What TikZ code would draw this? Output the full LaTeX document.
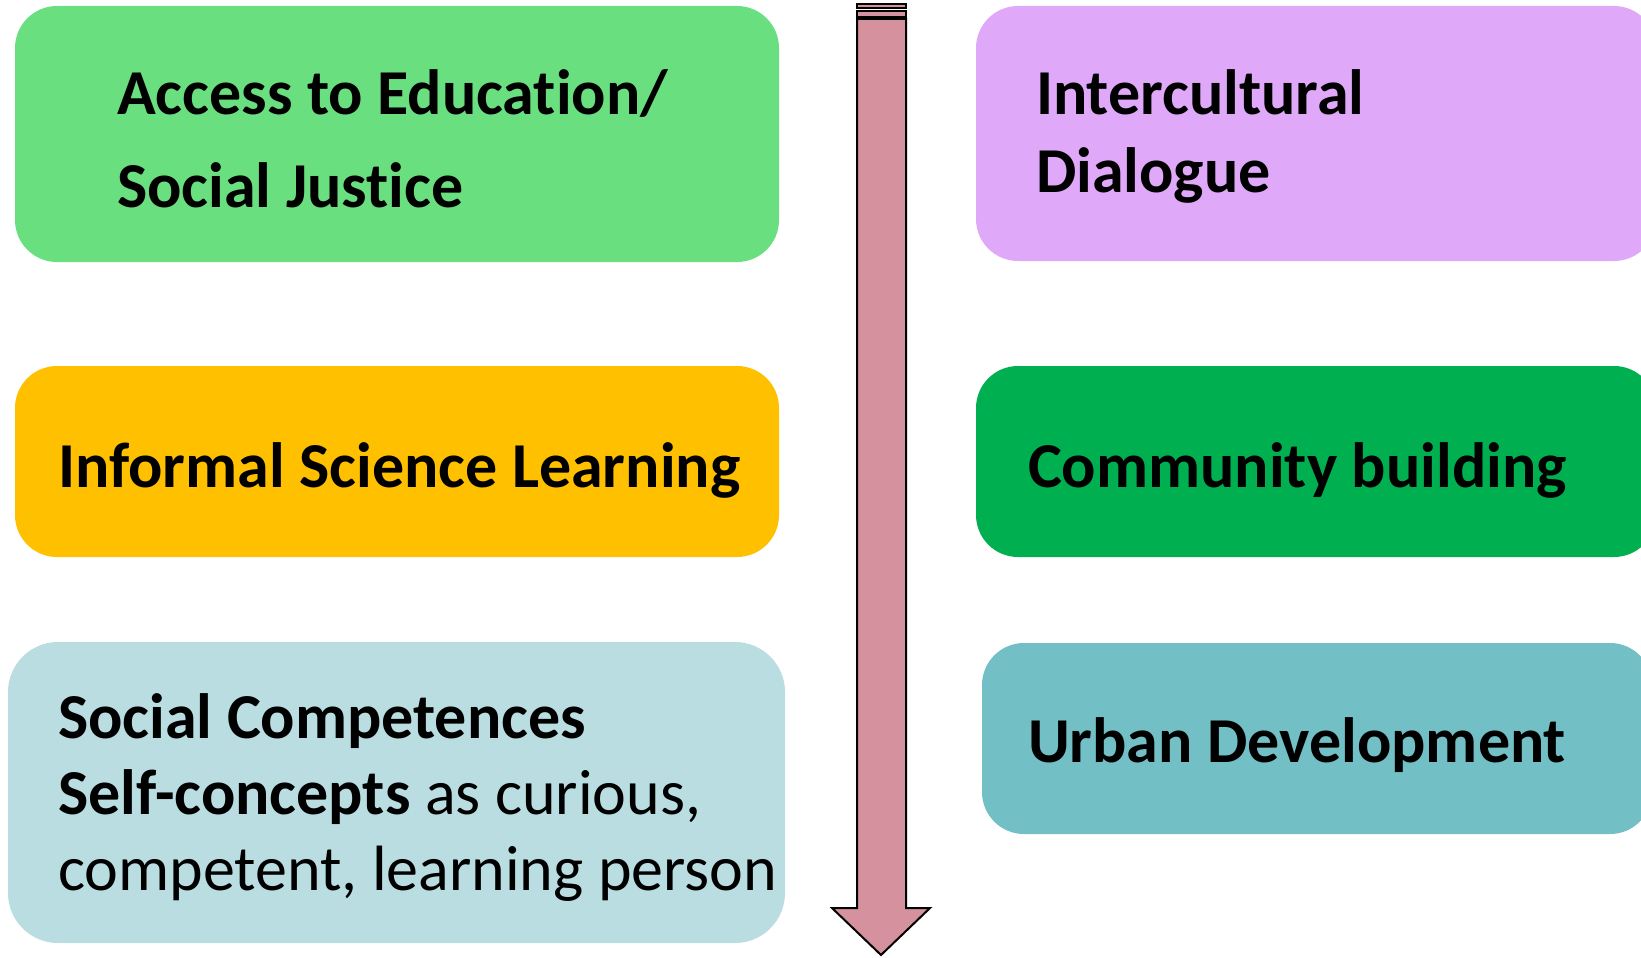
\documentclass[tikz,border=0pt]{standalone}
\usepackage{fontspec}
\setmainfont{Carlito}[Ligatures={NoCommon,NoRare}]
\definecolor{accessgreen}{RGB}{106,223,128}
\definecolor{dialoguelilac}{RGB}{223,168,248}
\definecolor{scienceorange}{RGB}{255,192,0}
\definecolor{communitygreen}{RGB}{0,176,80}
\definecolor{competenceblue}{RGB}{185,221,225}
\definecolor{urbanteal}{RGB}{114,191,198}
\definecolor{arrowrose}{RGB}{214,145,158}
\begin{document}
\begin{tikzpicture}[x=0.5pt,y=-0.5pt]
\tikzstyle{every node}=[inner sep=0pt, outer sep=0pt]
\tikzstyle{tile}=[rectangle, anchor=north west, rounded corners=21pt]
\tikzstyle{boxtext}=[anchor=base west, text=black, font=\fontsize{32}{38}\selectfont\bfseries]
\tikzstyle{plaintext}=[anchor=base west, text=black, font=\fontsize{32}{38}\selectfont]
\useasboundingbox (0,0) rectangle (1641,957);
% boxes
\node[tile, fill=accessgreen, minimum width=382pt, minimum height=128pt] (accessbox) at (15,6) {};
\node[tile, fill=dialoguelilac, minimum width=340pt, minimum height=127.5pt] (dialoguebox) at (976,6) {};
\node[tile, fill=scienceorange, minimum width=382pt, minimum height=95.5pt] (sciencebox) at (15,366) {};
\node[tile, fill=communitygreen, minimum width=340pt, minimum height=95.5pt] (communitybox) at (976,366) {};
\node[tile, fill=competenceblue, minimum width=388.5pt, minimum height=150.5pt, rounded corners=25pt] (competencebox) at (8,642) {};
\node[tile, fill=urbanteal, minimum width=335pt, minimum height=95.5pt] (urbanbox) at (982,643) {};
% texts
\node[boxtext] (access) at (117,115) {Access to Education/};
\node[boxtext] (justice) at (117,207) {Social Justice};
\node[boxtext] (intercult) at (1036,115) {Intercultural};
\node[boxtext] (dialogue) at (1036,192) {Dialogue};
\node[boxtext] (informal) at (58,487) {Informal Science Learning};
\node[boxtext] (community) at (1028,487) {Community building};
\node[boxtext] (competences) at (58,738) {Social Competences};
\node[plaintext] (selfconcepts) at (58,814) {\textbf{Self-concepts} as curious,};
\node[plaintext] (learner) at (58,890) {competent, learning person};
\node[boxtext] (urban) at (1028,762) {Urban Development};
% arrow
\draw[fill=arrowrose, line width=1pt] (857,4.5) rectangle (906,8.5);
\draw[fill=arrowrose, line width=1pt] (857,11) rectangle (906,17);
\draw[fill=arrowrose, line width=1pt, line join=miter] (857,19) -- (906,19) -- (906,908) -- (930,908)
  -- (881,955) -- (832,908) -- (857,908) -- cycle;
\end{tikzpicture}
\end{document}
